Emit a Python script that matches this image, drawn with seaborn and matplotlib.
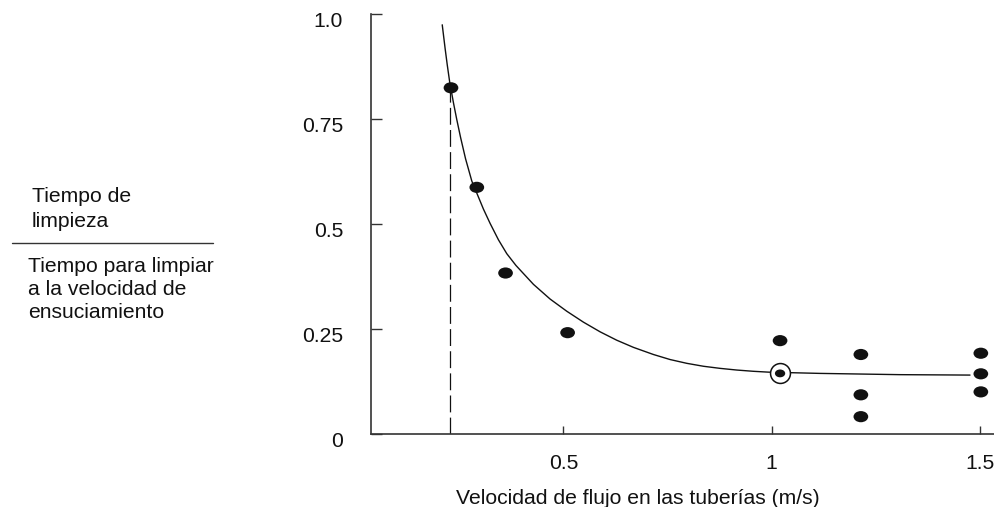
import numpy as np
import pandas as pd
import matplotlib
matplotlib.use("Agg")
import matplotlib.pyplot as plt
import matplotlib.transforms as mtransforms
from matplotlib.path import Path
from matplotlib.markers import MarkerStyle
from matplotlib.lines import Line2D
import seaborn as sns

# ---- data ----
point_x = [0.230, 0.292, 0.361, 0.510, 1.020, 1.214, 1.214, 1.214, 1.502, 1.502, 1.502]
point_y = [0.825, 0.588, 0.384, 0.242, 0.223, 0.190, 0.094, 0.042, 0.193, 0.144, 0.101]

circled_x = [1.020]
circled_y = [0.145]

curve_x = [0.209, 0.216, 0.221, 0.227, 0.236, 0.244, 0.253, 0.265, 0.280, 0.308,
           0.324, 0.344, 0.364, 0.386, 0.428, 0.468, 0.508, 0.548, 0.588, 0.628,
           0.668, 0.716, 0.756, 0.796, 0.836, 0.876, 0.916, 0.956, 0.992, 1.116,
           1.308, 1.476]
curve_y = [0.975, 0.918, 0.880, 0.838, 0.789, 0.749, 0.707, 0.656, 0.603, 0.536,
           0.502, 0.463, 0.430, 0.402, 0.357, 0.322, 0.293, 0.267, 0.244, 0.224,
           0.207, 0.190, 0.178, 0.169, 0.162, 0.157, 0.153, 0.150, 0.148, 0.145,
           0.142, 0.141]

dash_x = 0.228
dash_top = 0.825

x_ticks = [0.5, 1.0, 1.5]
x_ticklabels = ["0.5", "1", "1.5"]
y_ticks = [0, 0.25, 0.5, 0.75, 1.0]
y_ticklabels = ["0", "0.25", "0.5", "0.75", "1.0"]

xlabel = "Velocidad de flujo en las tuberías (m/s)"
ylabel_top = "Tiempo de\nlimpieza"
ylabel_bottom = "Tiempo para limpiar\na la velocidad de\nensuciamiento"

# ---- styling ----
sns.set_theme(style="ticks")
plt.rcParams["font.family"] = ["Liberation Sans", "DejaVu Sans"]
FS = 15.2
INK = "#111111"
AX = "#333333"

fig = plt.figure(figsize=(9.95, 5.07), dpi=100)
ax = fig.add_axes([371 / 995, (507 - 434.3) / 507, 624 / 995, 420 / 507])

points = pd.DataFrame({"x": point_x, "y": point_y})
curve = pd.DataFrame({"x": curve_x, "y": curve_y})
circ = pd.DataFrame({"x": circled_x, "y": circled_y})

# dashed vertical
ax.vlines(dash_x, 0, dash_top, colors=INK, linewidth=0.9,
          linestyles=[(0, (13.5, 4.2))], zorder=1)

# fitted curve
sns.lineplot(data=curve, x="x", y="y", color=INK, linewidth=1.0, ax=ax, zorder=2,
             solid_joinstyle="round", solid_capstyle="round")

# ellipse marker
ell = Path.unit_circle()
ell = Path(ell.vertices * np.array([1.0, 0.76]), ell.codes)
ell_marker = MarkerStyle(ell)

sns.scatterplot(data=points, x="x", y="y", marker=ell_marker, s=112,
                color=INK, edgecolor="none", linewidth=0, ax=ax, zorder=3)

# circled point
sns.scatterplot(data=circ, x="x", y="y", marker="o", s=205,
                facecolor="white", edgecolor=INK, linewidth=1.1, ax=ax, zorder=3)
sns.scatterplot(data=circ, x="x", y="y", marker=ell_marker, s=55,
                color=INK, edgecolor="none", linewidth=0, ax=ax, zorder=4)

ax.set_xlim(0.038, 1.536)
ax.set_ylim(0, 1.0)
ax.set_xticks(x_ticks)
ax.set_xticklabels(x_ticklabels)
ax.set_yticks(y_ticks)
ax.set_yticklabels(y_ticklabels)

sns.despine(ax=ax)
for s in ["left", "bottom"]:
    ax.spines[s].set_color(AX)
    ax.spines[s].set_linewidth(1.2)

ax.tick_params(axis="y", direction="in", length=8, width=1.0, color=AX,
               labelsize=FS, labelcolor=INK, pad=20)
ax.tick_params(axis="x", direction="in", length=6, width=1.0, color=AX,
               labelsize=FS, labelcolor=INK, pad=14)

offset = mtransforms.ScaledTranslation(0, -5 / 100, fig.dpi_scale_trans)
for lbl in ax.get_yticklabels():
    lbl.set_transform(lbl.get_transform() + offset)

ax.set_xlabel(xlabel, fontsize=FS, color=INK)
ax.set_ylabel("")
ax.xaxis.set_label_coords((637.4 - 371) / 624, -(489.0 - 434.3) / 420)

# y-axis label as a fraction
fig.text(31.7 / 995, 1 - 186.7 / 507, ylabel_top, ha="left", va="top",
         fontsize=FS, color=INK, linespacing=1.4)
fig.text(28.3 / 995, 1 - 257.3 / 507, ylabel_bottom, ha="left", va="top",
         fontsize=FS, color=INK, linespacing=1.27)
fig.add_artist(Line2D([11.7 / 995, 213.3 / 995], [1 - 242.7 / 507, 1 - 242.7 / 507],
                      color=AX, linewidth=1.0, transform=fig.transFigure))

fig.savefig("out.png", dpi=100)
